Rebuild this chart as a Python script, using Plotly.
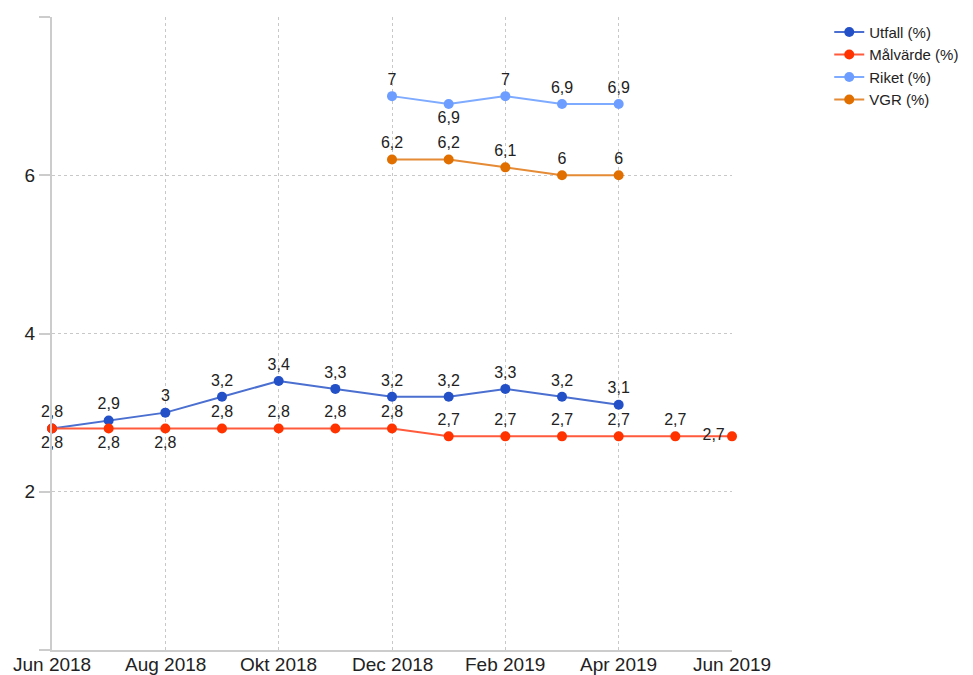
import plotly.graph_objects as go

months = ["Jun 2018", "Jul 2018", "Aug 2018", "Sep 2018", "Okt 2018", "Nov 2018",
          "Dec 2018", "Jan 2019", "Feb 2019", "Mar 2019", "Apr 2019", "Maj 2019", "Jun 2019"]

utfall = [2.8, 2.9, 3.0, 3.2, 3.4, 3.3, 3.2, 3.2, 3.3, 3.2, 3.1, None, None]
malvarde = [2.8, 2.8, 2.8, 2.8, 2.8, 2.8, 2.8, 2.7, 2.7, 2.7, 2.7, 2.7, 2.7]
riket = [None, None, None, None, None, None, 7.0, 6.9, 7.0, 6.9, 6.9, None, None]
vgr = [None, None, None, None, None, None, 6.2, 6.2, 6.1, 6.0, 6.0, None, None]

tick_labels = ["Jun 2018", "Aug 2018", "Okt 2018", "Dec 2018", "Feb 2019", "Apr 2019", "Jun 2019"]

def fmt(v):
    if v is None:
        return ""
    return ("%g" % v).replace(".", ",")

pos_utfall = ["top center"] * 13
pos_mal = ["bottom center"] * 3 + ["top center"] * 9 + ["middle left"]
pos_riket = ["top center"] * 13
pos_riket[7] = "bottom center"
pos_vgr = ["top center"] * 13

series = [
    ("Utfall (%)", utfall, "#2350c6", "#4a6fd0", pos_utfall),
    ("Målvärde (%)", malvarde, "#ff3300", "#ff5a3c", pos_mal),
    ("Riket (%)", riket, "#6d9eff", "#7eaaff", pos_riket),
    ("VGR (%)", vgr, "#e06f00", "#e58a35", pos_vgr),
]

fig = go.Figure()
for name, vals, color, lcolor, pos in series:
    fig.add_trace(go.Scatter(
        x=months, y=vals, name=name, mode="lines+markers+text",
        line=dict(color=lcolor, width=2),
        marker=dict(color=color, size=10),
        text=[fmt(v) for v in vals],
        textposition=pos,
        textfont=dict(family="Liberation Sans, Arial, sans-serif", size=16, color="#222222"),
        cliponaxis=False,
        connectgaps=False,
    ))

for lab in tick_labels:
    fig.add_annotation(
        x=lab, xref="x", y=0, yref="paper", yanchor="middle", xanchor="center",
        yshift=-14, text=lab, showarrow=False,
        font=dict(family="Liberation Sans, Arial, sans-serif", size=19, color="#222222"),
    )

fig.update_layout(
    width=965, height=667,
    margin=dict(l=44, r=241, t=9, b=25, autoexpand=False),
    paper_bgcolor="white", plot_bgcolor="white",
    font=dict(family="Liberation Sans, Arial, sans-serif", size=16, color="#222222"),
    showlegend=True,
    legend=dict(x=1.143, y=1.002, xanchor="left", yanchor="top",
                font=dict(size=15, color="#222222"), bgcolor="rgba(0,0,0,0)",
                itemwidth=30),
)
fig.update_xaxes(
    type="category", categoryorder="array", categoryarray=months,
    range=[0, 12], tickvals=tick_labels, showticklabels=False,
    showgrid=True, gridcolor="#c8c8c8", griddash="dot", gridwidth=1,
    showline=True, linecolor="#cccccc", linewidth=2,
    ticks="", zeroline=False, automargin=False,
)
fig.update_yaxes(
    range=[0, 8], tickvals=[0, 2, 4, 6, 8], ticktext=["", "2", "4", "6", ""],
    showgrid=True, gridcolor="#c8c8c8", griddash="dot", gridwidth=1,
    showline=True, linecolor="#cccccc", linewidth=2,
    ticks="outside", ticklen=11, tickcolor="#cccccc", tickwidth=2,
    tickfont=dict(size=19, color="#222222"), zeroline=False, automargin=False,
)

fig.write_html("out.html")
